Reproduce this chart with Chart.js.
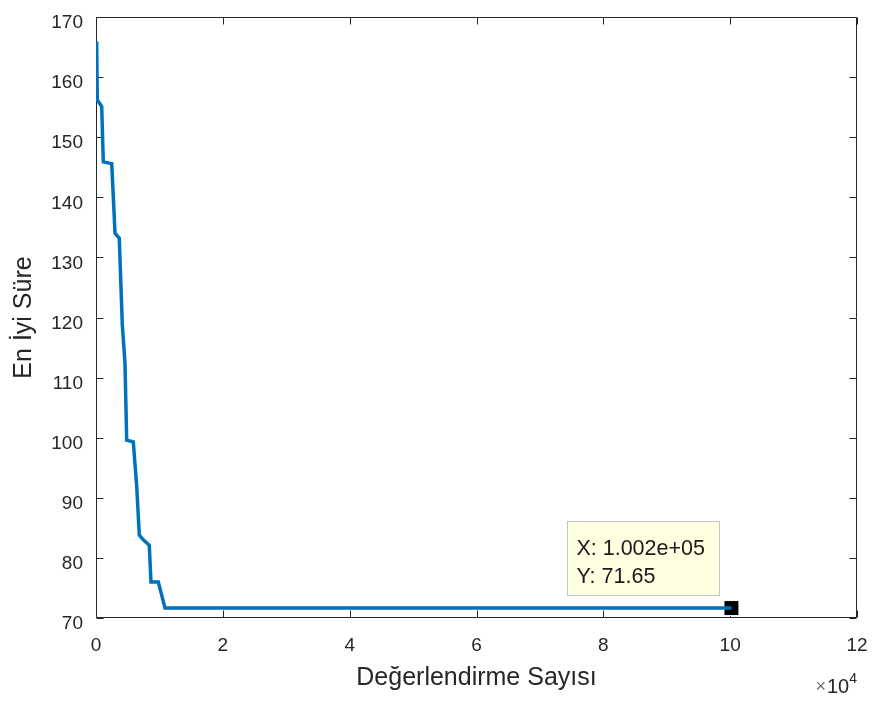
<!DOCTYPE html>
<html>
<head>
<meta charset="utf-8">
<script src="https://cdn.jsdelivr.net/npm/chart.js@4.4.1/dist/chart.umd.min.js"></script>
<style>
  body { margin: 0; background: #fff; }
  canvas { display: block; }
</style>
</head>
<body>
<canvas id="chart" width="872" height="702"></canvas>
<script>
// ===== data =====
const evalCounts = [100, 205, 900, 1150, 2480, 3000, 3670, 4150, 4570, 4840, 5880, 6420, 6830, 7460, 8400, 8670, 9820, 10360, 10880, 100200];
const bestTimes  = [165.9, 156.2, 155.1, 145.9, 145.6, 134.0, 133.2, 118.75, 112.4, 99.6, 99.3, 91.85, 83.8, 83.0, 82.1, 76.0, 76.0, 73.8, 71.65, 71.65];
const xTicks = [0, 20000, 40000, 60000, 80000, 100000, 120000];
const yTicks = [70, 80, 90, 100, 110, 120, 130, 140, 150, 160, 170];
const tipX = 100200;
const tipY = 71.65;

const TEXT = '#262626';
const FONT = '"Liberation Sans", Arial, sans-serif';

// kutu + iç tikler (MATLAB tarzı)
const boxPlugin = {
    id: 'box',
    beforeDatasetsDraw(chart) {
        const { ctx, chartArea: a, scales } = chart;
        ctx.save();
        ctx.strokeStyle = TEXT;
        ctx.lineWidth = 1;
        ctx.beginPath();
        const L = Math.round(a.left) + 0.5, R = Math.round(a.right) - 0.5;
        const T = Math.round(a.top) + 0.5, B = Math.round(a.bottom) - 0.5;
        ctx.rect(L, T, R - L, B - T);
        const len = 7;
        xTicks.forEach(v => {
            const px = Math.round(scales.x.getPixelForValue(v)) + 0.5;
            ctx.moveTo(px, B); ctx.lineTo(px, B - len);
            ctx.moveTo(px, T); ctx.lineTo(px, T + len);
        });
        yTicks.forEach(v => {
            const py = Math.round(scales.y.getPixelForValue(v)) + 0.5;
            ctx.moveTo(L, py); ctx.lineTo(L + len, py);
            ctx.moveTo(R, py); ctx.lineTo(R - len, py);
        });
        ctx.stroke();
        ctx.restore();
    },
    afterDraw(chart) {
        const { ctx, chartArea: a, scales } = chart;
        ctx.save();
        // x10^4
        ctx.fillStyle = TEXT;
        ctx.textBaseline = 'alphabetic';
        ctx.textAlign = 'right';
        ctx.font = '14px ' + FONT;
        ctx.fillText('4', a.right, 683);
        const w4 = ctx.measureText('4').width;
        ctx.font = '20px ' + FONT;
        ctx.fillText('10', a.right - w4, 693);
        const w10 = ctx.measureText('10').width;
        ctx.fillStyle = '#6f6f6f';
        ctx.font = '18px ' + FONT;
        ctx.fillText('\u00d7', a.right - w4 - w10 - 1, 692);

        // datatip
        const mx = scales.x.getPixelForValue(tipX);
        const my = scales.y.getPixelForValue(tipY);
        const bx = mx - 164, by = my - 87, bw = 152, bh = 74;
        ctx.fillStyle = '#FFFFE1';
        ctx.fillRect(bx, by, bw, bh);
        ctx.strokeStyle = '#C4C4C4';
        ctx.lineWidth = 1;
        ctx.strokeRect(Math.round(bx) + 0.5, Math.round(by) + 0.5, bw, bh);
        ctx.fillStyle = '#1a1a1a';
        ctx.textAlign = 'left';
        ctx.font = '21.5px ' + FONT;
        const exp = Math.floor(Math.log10(tipX));
        const xs = 'X: ' + (tipX / Math.pow(10, exp)).toFixed(3) + 'e+' + String(exp).padStart(2, '0');
        ctx.fillText(xs, bx + 9, by + 34);
        ctx.fillText('Y: ' + tipY.toFixed(2), bx + 9, by + 62);
        ctx.restore();
    }
};

new Chart(document.getElementById('chart'), {
    type: 'line',
    data: {
        datasets: [{
            data: evalCounts.map((x, i) => ({ x: x, y: bestTimes[i] })),
            borderColor: '#0072BD',
            borderWidth: 3.5,
            pointRadius: 0,
            tension: 0,
            fill: false
        }, {
            data: [{ x: tipX, y: tipY }],
            showLine: false,
            pointStyle: 'rect',
            pointRadius: 10.6,
            pointBackgroundColor: '#000',
            pointBorderColor: '#fff',
            pointBorderWidth: 1,
            clip: false
        }]
    },
    options: {
        responsive: false,
        animation: false,
        devicePixelRatio: 1,
        layout: { padding: { top: 17, right: 15, left: 0, bottom: 0 } },
        plugins: { legend: { display: false }, tooltip: { enabled: false } },
        scales: {
            x: {
                type: 'linear',
                min: 0, max: 120000,
                afterBuildTicks: s => { s.ticks = xTicks.map(v => ({ value: v })); },
                afterFit: s => { s.height = 84; s.paddingLeft = 0; s.paddingRight = 0; },
                grid: { display: false, drawTicks: false },
                border: { display: false },
                ticks: {
                    padding: 16,
                    color: TEXT,
                    font: { family: FONT, size: 19 },
                    maxRotation: 0,
                    callback: v => String(v / 10000)
                },
                title: {
                    display: true,
                    text: 'Değerlendirme Sayısı',
                    color: TEXT,
                    font: { family: FONT, size: 25 },
                    padding: { top: 0, bottom: 9 }
                }
            },
            y: {
                type: 'linear',
                min: 70, max: 170,
                afterBuildTicks: s => { s.ticks = yTicks.map(v => ({ value: v })); },
                afterFit: s => { s.width = 96; s.paddingTop = 0; s.paddingBottom = 0; },
                grid: { display: false, drawTicks: false },
                border: { display: false },
                ticks: {
                    padding: 13,
                    labelOffset: 6,
                    color: TEXT,
                    font: { family: FONT, size: 19 }
                },
                title: {
                    display: true,
                    text: 'En İyi Süre',
                    color: TEXT,
                    font: { family: FONT, size: 25 },
                    padding: { top: 9, bottom: 0 }
                }
            }
        }
    },
    plugins: [boxPlugin]
});
</script>
</body>
</html>
